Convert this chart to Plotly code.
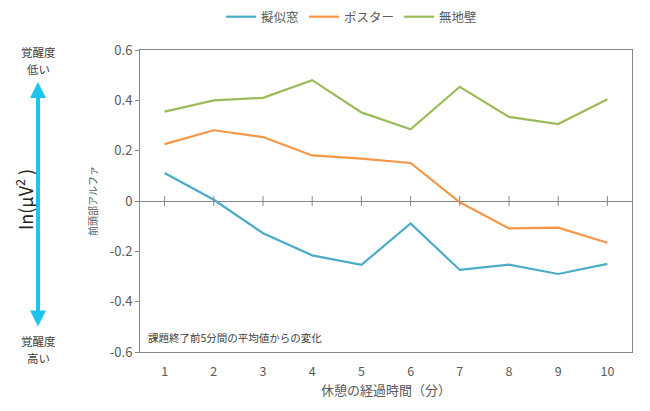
import plotly.graph_objects as go

minutes = [1, 2, 3, 4, 5, 6, 7, 8, 9, 10]
tick_labels = ["1", "2", "3", "4", "5", "6", "7", "8", "9", "10"]
series_names = ["擬似窓", "ポスター", "無地壁"]
window_vals = [0.111, 0.005, -0.128, -0.216, -0.254, -0.089, -0.274, -0.253, -0.290, -0.250]
poster_vals = [0.226, 0.281, 0.254, 0.181, 0.168, 0.151, -0.005, -0.109, -0.106, -0.166]
wall_vals = [0.355, 0.400, 0.410, 0.480, 0.352, 0.285, 0.454, 0.334, 0.306, 0.404]
colors = ["#4BACC6", "#F79646", "#9BBB59"]
y_ticks = [-0.6, -0.4, -0.2, 0, 0.2, 0.4, 0.6]
y_tick_text = ["-0.6", "-0.4", "-0.2", "0", "0.2", "0.4", "0.6"]

FONT = "Noto Sans CJK JP"
TXT = "#595959"
AX = "#868686"

fig = go.Figure()
for name, vals, c in zip(series_names, [window_vals, poster_vals, wall_vals], colors):
    fig.add_trace(go.Scatter(x=minutes, y=vals, name=name, mode="lines",
                             line=dict(color=c, width=2.2)))

# tick marks crossing the zero line
fig.add_trace(go.Scatter(x=minutes, y=[0] * len(minutes), mode="markers",
                         marker=dict(symbol="line-ns-open", size=7, color=AX,
                                     line=dict(color=AX, width=1)),
                         showlegend=False, hoverinfo="skip"))

fig.update_layout(
    width=650, height=411,
    margin=dict(l=140, r=18, t=50, b=59, autoexpand=False),
    paper_bgcolor="white", plot_bgcolor="white",
    font=dict(family=FONT, color=TXT, size=12),
    legend=dict(orientation="h", x=0.43, y=1.109, xanchor="center", yanchor="middle",
                font=dict(size=12.5, color=TXT), itemwidth=30, tracegroupgap=0),
    xaxis=dict(range=[0.5, 10.5], tickmode="array", tickvals=minutes, ticktext=tick_labels,
               showgrid=False, zeroline=False, showline=True, linecolor=AX, linewidth=1,
               mirror=True, ticks="", ticklabelstandoff=8,
               tickfont=dict(size=12.5, color=TXT),
               title=dict(text="休憩の経過時間（分）", font=dict(size=13, color=TXT), standoff=2)),
    yaxis=dict(range=[-0.6, 0.6], tickmode="array", tickvals=y_ticks, ticktext=y_tick_text,
               showgrid=False, zeroline=True, zerolinecolor=AX, zerolinewidth=1,
               showline=True, linecolor=AX, linewidth=1, mirror=True,
               ticks="outside", ticklen=4, tickcolor=AX,
               tickfont=dict(size=13, color=TXT),
               title=dict(text="前頭部アルファ", font=dict(size=10, color=TXT), standoff=10)),
)

def px(x):
    return (x - 140) / 492.0

def py(y):
    return (352 - y) / 302.0

fig.add_annotation(text="課題終了前5分間の平均値からの変化", xref="paper", yref="paper",
                   x=px(146), y=py(337), xanchor="left", yanchor="middle", showarrow=False,
                   font=dict(size=10.5, color="#404040"))

# left side arousal indicator (one annotation per text line)
left_lines = [("覚醒度", 52), ("低い", 69), ("覚醒度", 341), ("高い", 358)]
for txt, yy in left_lines:
    fig.add_annotation(text=txt, xref="paper", yref="paper", x=px(38), y=py(yy),
                       xanchor="center", yanchor="middle", showarrow=False,
                       font=dict(size=11.5, color="#404040"))

top_tip, bottom_tip = 82, 328
fig.add_annotation(text="", xref="paper", yref="paper", x=px(38), y=py(top_tip),
                   axref="pixel", ayref="pixel", ax=0, ay=bottom_tip - top_tip,
                   showarrow=True, arrowhead=2, startarrowhead=2, arrowside="end+start",
                   arrowsize=0.8, startarrowsize=0.8, arrowwidth=4,
                   arrowcolor="#1EC3EE", standoff=0, startstandoff=0)
fig.add_annotation(text="In(μV<sup>2</sup> )", xref="paper", yref="paper", x=px(24), y=py(200),
                   xanchor="center", yanchor="middle", textangle=-90, showarrow=False,
                   font=dict(size=18, color="#262626"))

fig.write_html("out.html", config={"displayModeBar": False},
               post_script="document.body.style.margin='0px';")
